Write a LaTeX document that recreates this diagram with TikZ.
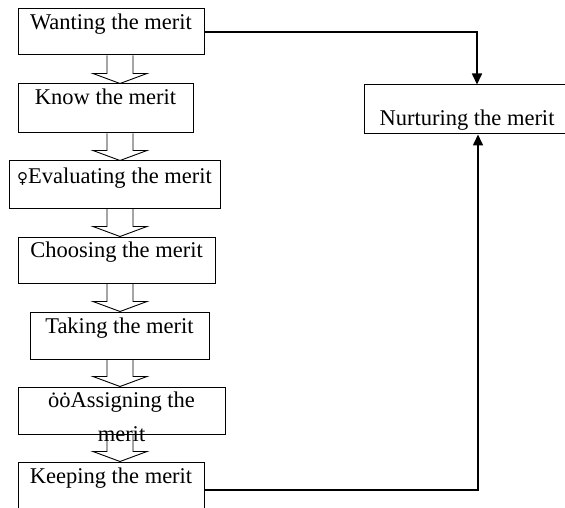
\documentclass[tikz,border=0pt]{standalone}
\usepackage{fontspec}
\setmainfont{Liberation Serif}
\newfontfamily\dejavu{DejaVu Sans}
\usetikzlibrary{arrows.meta,calc}
\tikzset{
  box/.style={draw, line width=1pt, inner xsep=0pt, inner ysep=0pt, anchor=base,
    font=\fontsize{22.5}{30}\selectfont, align=center},
  hollow/.style={draw, line width=0.9pt},
  conn/.style={draw, line width=1.6pt, -{Triangle[length=11pt,width=10pt]}}
}
\newcommand{\hollowarrow}[2]{%
  \draw[hollow] let \p1=(#1.south), \p2=(#2.north) in
    (107pt,\y1) -- (107pt,\y2+10pt) -- (93pt,\y2+10pt) -- (120pt,\y2)
    -- (147pt,\y2+10pt) -- (133pt,\y2+10pt) -- (133pt,\y1);}
\begin{document}
\begin{tikzpicture}[x=1pt,y=-1pt]
\clip (0,0) rectangle (565,508);
\fill[white] (0,0) rectangle (565,508);
\node[box, minimum width=186pt, text height=21pt, text depth=25pt] (b1) at (111,30) {Wanting the merit};
\node[box, minimum width=175pt, text height=21pt, text depth=28pt] (b2) at (105.5,105) {Know the merit};
\node[box, minimum width=211pt, text height=22pt, text depth=25pt] (b3) at (114.5,183) {{\dejavu\fontsize{15}{15}\selectfont ♀}Evaluating the merit};
\node[box, minimum width=197pt, text height=20pt, text depth=26pt] (b4) at (116.5,257) {Choosing the merit};
\node[box, minimum width=179pt, text height=21pt, text depth=26pt] (b5) at (119.5,333) {Taking the merit};
\node[box, minimum width=207pt, text height=20pt, text depth=27pt] (b6) at (121.5,407)
  {\begin{tabular}[t]{@{}c@{}}ȯȯAssigning the\\[4pt] merit\end{tabular}};
\node[box, minimum width=186pt, text height=21pt, text depth=35pt] (b7) at (111,483) {Keeping the merit};
\node[box, minimum width=206pt, text height=41pt, text depth=8pt] (nu) at (467,126) {Nurturing the merit};
\hollowarrow{b1}{b2}
\hollowarrow{b2}{b3}
\hollowarrow{b3}{b4}
\hollowarrow{b4}{b5}
\hollowarrow{b5}{b6}
\hollowarrow{b6}{b7}
\draw[conn] (b1.east) -| ([xshift=10pt]nu.north);
\draw[conn] (b7.east) -| ([xshift=11pt]nu.south);
\end{tikzpicture}
\end{document}
